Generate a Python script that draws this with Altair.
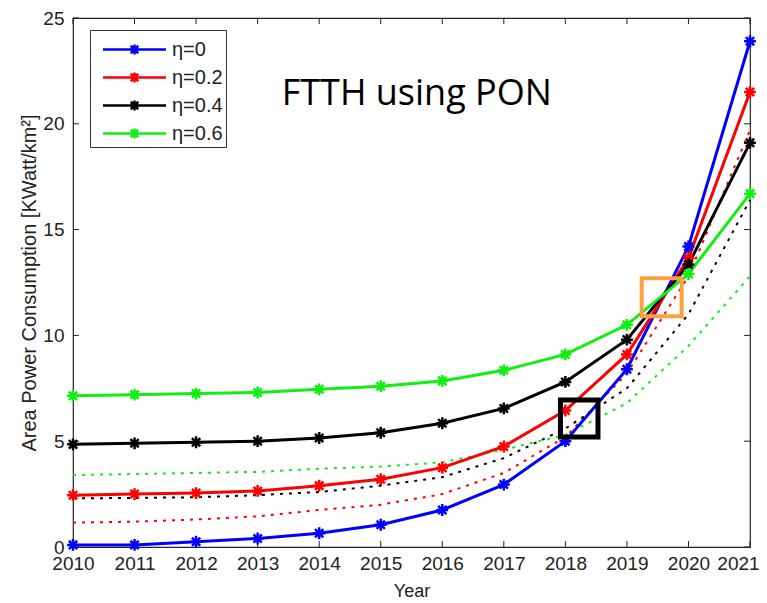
import altair as alt
import pandas as pd

years = list(range(2010, 2022))
series_names = ["η=0", "η=0.2", "η=0.4", "η=0.6"]
series_colors = ["#0000ff", "#ff0000", "#000000", "#11ee11"]

eta0 = [0.1, 0.1, 0.25, 0.4, 0.65, 1.05, 1.75, 2.95, 5.0, 8.4, 14.2, 23.9]
eta02 = [2.45, 2.5, 2.55, 2.65, 2.9, 3.2, 3.75, 4.75, 6.45, 9.1, 13.65, 21.5]
eta04 = [4.85, 4.9, 4.95, 5.0, 5.15, 5.4, 5.85, 6.55, 7.8, 9.8, 13.35, 19.1]
eta06 = [7.15, 7.2, 7.25, 7.3, 7.45, 7.6, 7.85, 8.35, 9.1, 10.5, 12.9, 16.7]

# dotted (reference) curves
dot_red = [1.15, 1.2, 1.3, 1.45, 1.75, 2.0, 2.5, 3.5, 5.2, 8.2, 12.8, 19.7]
dot_black = [2.3, 2.32, 2.35, 2.45, 2.6, 2.9, 3.3, 4.2, 5.6, 7.5, 11.0, 16.4]
dot_green = [3.4, 3.45, 3.5, 3.55, 3.7, 3.8, 4.0, 4.6, 5.3, 6.8, 9.5, 12.8]
dot_colors = ["#ff0000", "#000000", "#11ee11"]

x_ticks = years
y_ticks = [0, 5, 10, 15, 20, 25]

# highlight boxes (data coordinates) and their colours
box_x1 = [2019.24, 2017.92]
box_x2 = [2019.89, 2018.53]
box_y1 = [10.9, 5.2]
box_y2 = [12.7, 6.95]
box_colors = ["#ffa040", "#000000"]
box_widths = [4, 5]

note_text = ["FTTH using PON"]
note_x = [2013.39]
note_y = [21.4]

W, H = 677, 529

rows = []
for name, vals in zip(series_names, [eta0, eta02, eta04, eta06]):
    for yr, v in zip(years, vals):
        rows.append({"year": yr, "value": v, "series": name})
solid = pd.DataFrame(rows)

drows = []
for col, vals in zip(dot_colors, [dot_red, dot_black, dot_green]):
    for yr, v in zip(years, vals):
        drows.append({"year": yr, "value": v, "dcolor": col})
dotted = pd.DataFrame(drows)

xscale = alt.Scale(domain=[2010, 2021], nice=False, zero=False)
yscale = alt.Scale(domain=[0, 25], nice=False)

FONT = "Liberation Sans"
TXT = "#222222"

xaxis = alt.Axis(values=x_ticks, format="d", ticks=False, domain=False, grid=False,
                 labelFontSize=19, labelFont=FONT, labelColor=TXT,
                 labelOverlap=False, labelFlush=False, labelBound=False,
                 labelOffset={"condition": {"test": "datum.value == 2021", "value": -12},
                              "value": 0},
                 labelPadding=7, title="Year", titleFont=FONT,
                 titleFontSize=18, titleFontWeight="normal", titleColor=TXT,
                 titlePadding=9)
yaxis = alt.Axis(values=y_ticks, ticks=False, domain=False, grid=False,
                 labelFontSize=19, labelFont=FONT, labelColor=TXT,
                 labelOverlap=False, labelFlush=False, labelBound=False,
                 labelPadding=9, title="Area Power Consumption [KWatt/km²]",
                 titleFont=FONT, titleFontSize=20,
                 titleFontWeight="normal", titleColor=TXT, titlePadding=3)

legend_path = ("M-2.1,0L2.1,0M0,-0.34L0,0.34M-0.25,-0.25L0.25,0.25"
               "M-0.25,0.25L0.25,-0.25")
star_path = "M0,-1L0,1M-1,0L1,0M-0.7,-0.7L0.7,0.7M-0.7,0.7L0.7,-0.7"

base_dotted = alt.Chart(dotted).mark_line(strokeDash=[3, 6], strokeWidth=2).encode(
    x=alt.X("year:Q", scale=xscale, axis=xaxis),
    y=alt.Y("value:Q", scale=yscale, axis=yaxis),
    color=alt.Color("dcolor:N", scale=None),
    detail="dcolor:N",
)

lines = alt.Chart(solid).mark_line(
    strokeWidth=3,
    point=alt.OverlayMarkDef(shape=star_path, filled=False, size=140, strokeWidth=2.5),
).encode(
    x=alt.X("year:Q", scale=xscale),
    y=alt.Y("value:Q", scale=yscale),
    color=alt.Color(
        "series:N",
        scale=alt.Scale(domain=series_names, range=series_colors),
        sort=series_names,
        legend=alt.Legend(
            title=None, orient="none", legendX=17, legendY=12,
            symbolType=legend_path, symbolSize=900, symbolStrokeWidth=2.5,
            symbolOffset=25, labelOffset=21, labelFontSize=20,
            labelFont=FONT, labelColor=TXT, labelExpr="datum.label + '  '",
            rowPadding=1, padding=3, strokeColor="#333333", fillColor="white",
            cornerRadius=0,
        ),
    ),
)

boxes_df = pd.DataFrame({"x1": box_x1, "x2": box_x2, "y1": box_y1, "y2": box_y2,
                         "c": box_colors, "w": box_widths})
boxes = alt.Chart(boxes_df).mark_rect(fill=None, fillOpacity=0).encode(
    x=alt.X("x1:Q", scale=xscale), x2="x2:Q",
    y=alt.Y("y1:Q", scale=yscale), y2="y2:Q",
    stroke=alt.Color("c:N", scale=None),
    strokeWidth=alt.StrokeWidth("w:Q", scale=None),
)

note = alt.Chart(pd.DataFrame({"t": note_text, "x": note_x, "y": note_y})).mark_text(
    align="left", baseline="middle", font="Open Sans", fontSize=36, color="#000000"
).encode(x=alt.X("x:Q", scale=xscale), y=alt.Y("y:Q", scale=yscale), text="t:N")

xt = pd.DataFrame({"year": x_ticks})
yt = pd.DataFrame({"v": y_ticks})
tick_len = 6
tb = alt.Chart(xt).mark_rule(color=TXT, strokeWidth=1).encode(
    x=alt.X("year:Q", scale=xscale), y=alt.value(H), y2=alt.value(H - tick_len))
tt = alt.Chart(xt).mark_rule(color=TXT, strokeWidth=1).encode(
    x=alt.X("year:Q", scale=xscale), y=alt.value(0), y2=alt.value(tick_len))
tl = alt.Chart(yt).mark_rule(color=TXT, strokeWidth=1).encode(
    y=alt.Y("v:Q", scale=yscale), x=alt.value(0), x2=alt.value(tick_len))
tr = alt.Chart(yt).mark_rule(color=TXT, strokeWidth=1).encode(
    y=alt.Y("v:Q", scale=yscale), x=alt.value(W), x2=alt.value(W - tick_len))

chart = alt.layer(base_dotted, tb, tt, tl, tr, lines, boxes, note).properties(
    width=W, height=H,
    autosize=alt.AutoSizeParams(type="none"),
    padding={"left": 65, "top": 10, "right": 9, "bottom": 56},
    background="white",
).configure_view(stroke=TXT, strokeWidth=1.2)

chart.save("out.html", embed_options={"renderer": "svg", "actions": False})
